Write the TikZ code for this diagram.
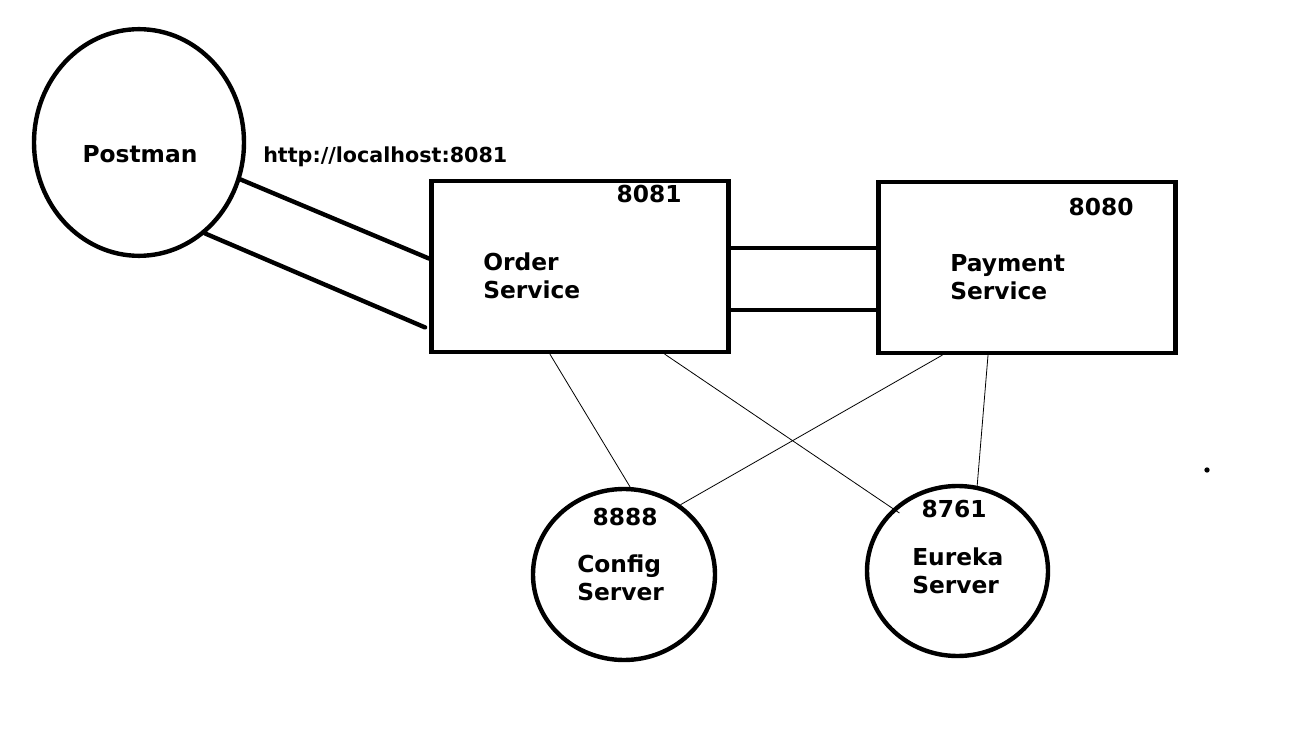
\documentclass[tikz,border=0pt]{standalone}
\usepackage{fontspec}
\setmainfont{DejaVu Sans}
\usetikzlibrary{shapes.geometric,calc}
\tikzset{
  box/.style={draw,line width=3.3pt,rectangle,minimum width=223pt,minimum height=128pt,inner sep=0pt},
  bubble/.style={draw,line width=3.3pt,ellipse,inner sep=0pt},
  wire/.style={line width=3.3pt,line cap=round},
  link/.style={line width=0.6pt},
  lbl/.style={font=\fontsize{17.5}{21}\selectfont\bfseries,inner sep=0pt},
  url/.style={font=\fontsize{15.5}{18}\selectfont\bfseries,inner sep=0pt}
}
\begin{document}
\begin{tikzpicture}[x=0.75pt,y=-0.75pt]
  \useasboundingbox (0,0) rectangle (1296,741);
  % services and clients
  \node[bubble,minimum width=157.5pt,minimum height=170pt] (postman) at (139,142.5) {};
  \node[box] (order) at (580,266.5) {};
  \node[box] (pay) at (1027,267.5) {};
  \node[bubble,minimum width=136.5pt,minimum height=128.25pt] (config) at (624,574.5) {};
  \node[bubble,minimum width=135.75pt,minimum height=127.5pt] (eureka) at (957.5,571) {};
  % texts
  \node[lbl] (postmantxt) at (140,154) {Postman};
  \node[url,anchor=west] (urltxt) at (263,157) {http://localhost:8081};
  \node[lbl] (orderport) at (649,194) {8081};
  \node[lbl,anchor=west,align=left] (ordertxt) at (483,276) {Order\\Service};
  \node[lbl] (payport) at (1101,207) {8080};
  \node[lbl,anchor=west,align=left] (paytxt) at (950,277) {Payment\\Service};
  \node[lbl] (configport) at (625,517) {8888};
  \node[lbl,anchor=west,align=left] (configtxt) at (577,578) {Config\\Server};
  \node[lbl] (eurekaport) at (954,509) {8761};
  \node[lbl,anchor=west,align=left] (eurekatxt) at (912,571) {Eureka\\Server};
  % postman to order service
  \draw[wire] (postman.-20.6) -- (order.177.5);
  \draw[wire] (postman.-54.6) -- ($(order.-158.9)+(-4,0)$);
  % order service to payment service
  \draw[wire] (order.7) -- (order.7 -| pay.west);
  \draw[wire] (order.-16.6) -- (order.-16.6 -| pay.west);
  % config and eureka links
  \draw[link] (order.-109.9) -- (config.86.8);
  \draw[link,shorten >=-6pt] (order.-46.9) -- (eureka.136);
  \draw[link] (pay.-134.5) -- (config.51.1);
  \draw[link] (pay.-114.8) -- (eureka.77.7);
  \fill (1207,470) circle (2pt);
\end{tikzpicture}
\end{document}
